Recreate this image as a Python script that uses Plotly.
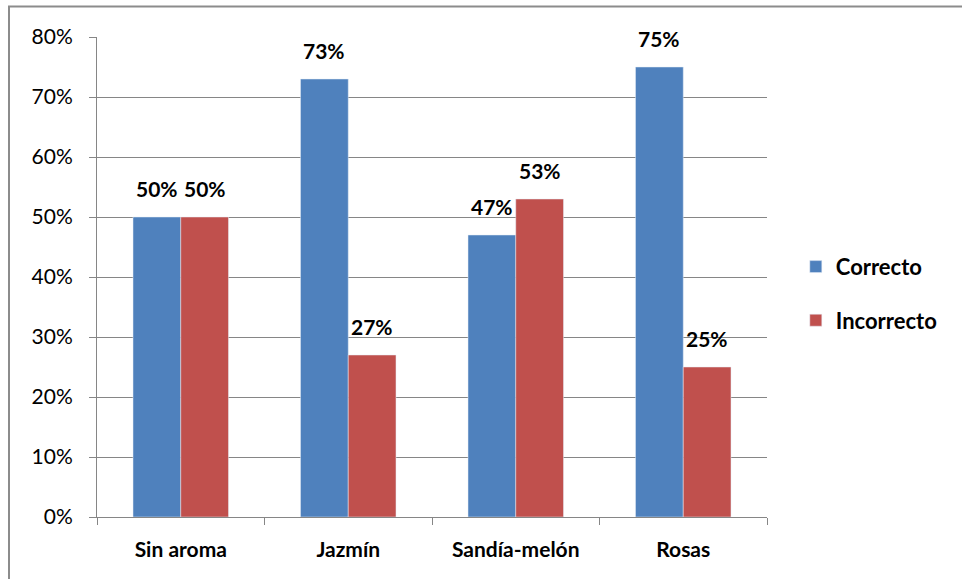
import plotly.graph_objects as go

categorias = ["Sin aroma", "Jazmín", "Sandía-melón", "Rosas"]
correcto = [50, 73, 47, 75]
incorrecto = [50, 27, 53, 25]
y_ticks = [0, 10, 20, 30, 40, 50, 60, 70, 80]
y_tick_text = [f"{v}%" for v in y_ticks]

AZUL = "#4F81BD"
ROJO = "#C0504D"
GRIS = "#868686"
FUENTE = "Lato, 'Open Sans', sans-serif"

BARGAP = 0.43
ANCHO_PLOT = 670  # px del área de trazado
ancho_cat = ANCHO_PLOT / len(categorias)
medio_ancho_barra = ancho_cat * (1 - BARGAP) / 4

fig = go.Figure()
fig.add_trace(go.Bar(
    x=categorias, y=correcto, name="Correcto", marker_color=AZUL,
    legendgroup="a",
))
fig.add_trace(go.Bar(
    x=categorias, y=incorrecto, name="Incorrecto", marker_color=ROJO,
    legendgroup="b",
))

# etiquetas de valor sobre cada barra
for serie, desplazamiento in ((correcto, -medio_ancho_barra), (incorrecto, medio_ancho_barra)):
    for cat, v in zip(categorias, serie):
        fig.add_annotation(
            x=cat, y=v, text=f"<b>{v}%</b>", showarrow=False,
            xshift=desplazamiento, yshift=14, yanchor="bottom",
            font=dict(size=21, color="black", family=FUENTE),
        )

fig.update_layout(
    width=962, height=579,
    margin=dict(l=97, r=195, t=37, b=62),
    paper_bgcolor="white", plot_bgcolor="white",
    barmode="group", bargap=BARGAP, bargroupgap=0,
    font=dict(family=FUENTE, color="black"),
    showlegend=True,
    legend=dict(
        x=1.043, y=0.465, xanchor="left", yanchor="middle",
        font=dict(size=22, family=FUENTE, weight="bold"), tracegroupgap=22,
        itemwidth=30, bgcolor="rgba(0,0,0,0)",
    ),
)
fig.update_yaxes(
    range=[0, 80], tickvals=y_ticks, ticktext=y_tick_text,
    showgrid=True, gridcolor=GRIS, gridwidth=1,
    showline=True, linecolor=GRIS, linewidth=1,
    ticks="outside", ticklen=7, tickcolor=GRIS, ticklabelstandoff=12,
    tickfont=dict(size=21, family=FUENTE), zeroline=False,
)
fig.update_xaxes(
    showline=True, linecolor=GRIS, linewidth=1,
    ticks="outside", tickson="boundaries", ticklen=7, tickcolor=GRIS,
    ticklabelstandoff=14,
    tickfont=dict(size=21, family=FUENTE, weight="bold"),
)

# marco gris del área del gráfico
fig.add_shape(
    type="rect", xref="paper", yref="paper",
    x0=(9 - 97) / 670, x1=(970 - 97) / 670,
    y0=(517 - 590) / 480, y1=(517 - 6.5) / 480,
    line=dict(color="#8C8C8C", width=2), fillcolor="rgba(0,0,0,0)",
    layer="below",
)

fig.write_html("out.html")
